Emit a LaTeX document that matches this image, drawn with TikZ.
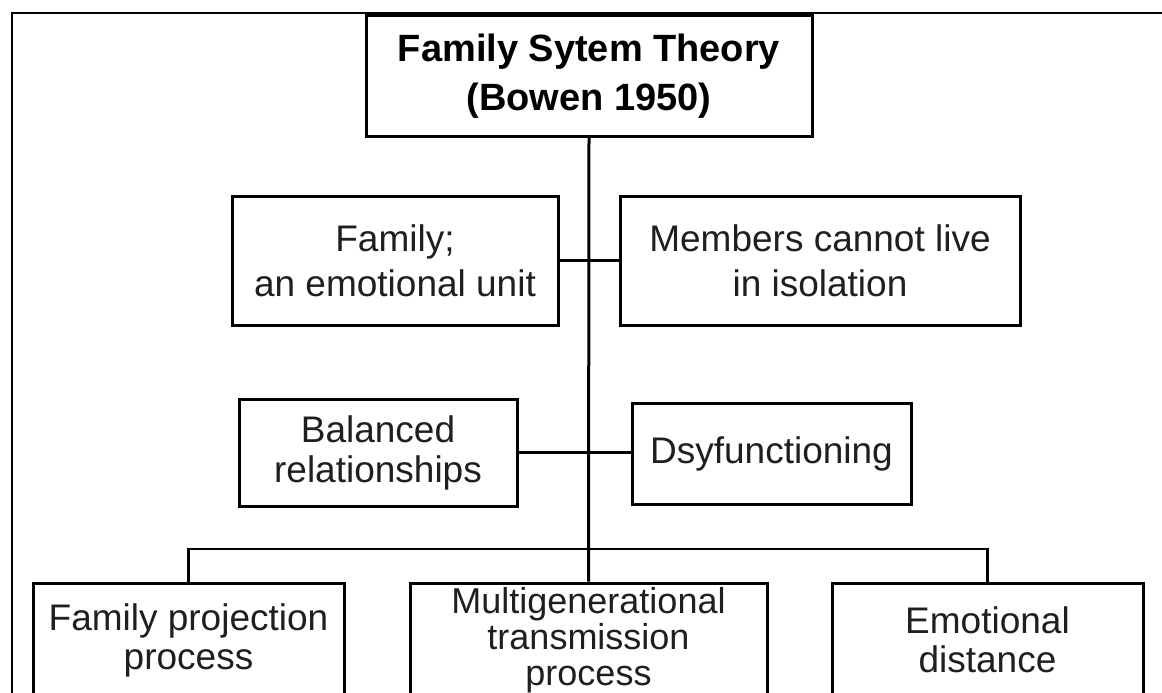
\documentclass[tikz,border=0pt]{standalone}
\usepackage{fontspec}
\setmainfont{Liberation Sans}
\begin{document}
\begin{tikzpicture}[x=1pt,y={(0pt,-1pt)},
  box/.style={draw=black, line width=3pt, rectangle, align=center, inner sep=0pt,
    font=\fontsize{37}{41}\selectfont, text=black!88},
  titlebox/.style={box, font=\fontsize{38}{49}\selectfont\bfseries, text=black},
  link/.style={draw=black, line width=2.5pt},
  frame/.style={draw=black, line width=2pt}]
\useasboundingbox (0,0) rectangle (1162,693);
\clip (0,0) rectangle (1162,693);
\fill[white] (0,0) rectangle (1162,693);
% outer frame
\draw[frame] (12,700) -- (12,13) -- (1170,13);
% nodes
\node[titlebox, minimum width=446pt, minimum height=120pt] (title) at (589,76) {Family Sytem Theory\\(Bowen 1950)};
\node[box, minimum width=326pt, minimum height=129pt, font=\fontsize{37}{45}\selectfont] (fam) at (395,260.5) {Family;\\an emotional unit};
\node[box, minimum width=400pt, minimum height=129pt, font=\fontsize{37}{45}\selectfont] (mem) at (820,260.5) {Members cannot live\\in isolation};
\node[box, minimum width=278pt, minimum height=107pt, font=\fontsize{37}{40}\selectfont] (bal) at (378,452.5) {Balanced\\relationships};
\node[box, minimum width=279pt, minimum height=101pt] (dys) at (771.5,453.5) {Dsyfunctioning};
\node[box, minimum width=311pt, minimum height=114pt, font=\fontsize{37}{39}\selectfont] (fpp) at (188.5,640) {Family projection\\process};
\node[box, minimum width=357pt, minimum height=114pt, font=\fontsize{36}{36}\selectfont] (mtp) at (588.5,640) {Multigenerational\\transmission\\process};
\node[box, minimum width=311pt, minimum height=114pt, font=\fontsize{37}{39}\selectfont] (emd) at (987.5,640) {Emotional\\distance};
\coordinate (bar) at (588.5,549);
% connectors
\draw[link, line width=3pt] (title.south) -- (mtp.north);
\draw[link, line width=2.2pt] (fam.east) -- (mem.west);
\draw[link] (bal.east) -- (bal.east -| dys.west);
\draw[link] (fpp.north) -- (fpp.north |- bar) -- (emd.north |- bar) -- (emd.north);
\end{tikzpicture}
\end{document}
